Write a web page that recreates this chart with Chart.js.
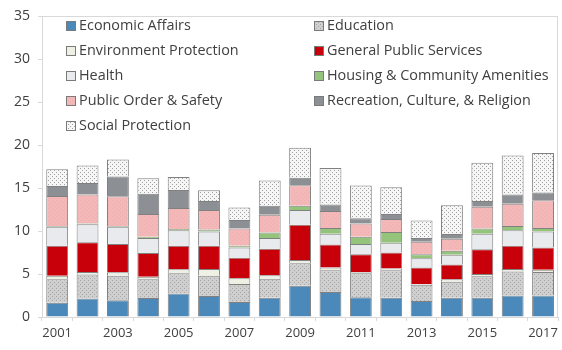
<!DOCTYPE html>
<html>
<head>
<meta charset="utf-8">
<script src="https://cdn.jsdelivr.net/npm/chart.js@4/dist/chart.umd.min.js"></script>
<style>
html,body{margin:0;padding:0;background:#fff;}
#wrap{width:562px;height:350px;position:relative;}
</style>
</head>
<body>
<div id="wrap"><canvas id="c" width="562" height="350"></canvas></div>
<script>
const years = ['2001','2002','2003','2004','2005','2006','2007','2008','2009','2010','2011','2012','2013','2014','2015','2016','2017'];
const yTicks = [0,5,10,15,20,25,30,35];

const economicAffairs   = [1.65,2.15,1.95,2.2,2.75,2.45,1.75,2.25,3.65,2.9,2.3,2.25,1.85,2.25,2.25,2.5,2.5];
const education         = [2.75,2.8,2.85,2.2,2.35,2.35,2.1,2.2,2.6,2.55,2.8,3.2,1.9,1.85,2.5,2.8,2.75];
const environment       = [0.4,0.3,0.4,0.3,0.45,0.8,0.65,0.4,0.4,0.3,0.15,0.2,0.1,0.3,0.25,0.3,0.25];
const generalPublic     = [3.5,3.45,3.3,2.75,2.75,2.7,2.4,3.1,4.1,2.7,2.05,1.85,1.9,1.7,2.9,2.7,2.6];
const health            = [2.2,2.1,2.0,1.75,1.8,1.65,1.2,1.25,1.7,1.25,1.2,1.15,1.1,1.15,1.8,1.8,1.85];
const housing           = [0.1,0.1,0.1,0.15,0.15,0.25,0.2,0.65,0.5,0.65,0.85,1.25,0.45,0.45,0.6,0.5,0.4];
const publicOrder       = [3.5,3.35,3.45,2.65,2.45,2.25,2.0,2.05,2.4,2.0,1.55,1.5,1.45,1.4,2.55,2.6,3.25];
const recreation        = [1.15,1.35,2.3,2.35,2.1,1.05,1.0,1.05,0.85,0.75,0.6,0.6,0.45,0.55,0.65,1.05,0.9];
const socialProtection  = [1.95,2.05,2.0,1.8,1.5,1.25,1.45,2.95,3.5,4.25,3.8,3.1,2.05,3.35,4.45,4.55,4.6];

function dotPattern(bg, dot) {
  const p = document.createElement('canvas');
  p.width = 4; p.height = 4;
  const g = p.getContext('2d');
  g.fillStyle = bg; g.fillRect(0,0,4,4);
  g.fillStyle = dot; g.fillRect(0,0,1,1); g.fillRect(2,2,1,1);
  return g.createPattern(p, 'repeat');
}

const FONT = '"Open Sans", "Noto Sans", sans-serif';
const series = [
  {label:'Economic Affairs', data:economicAffairs, color:'#4a89b9'},
  {label:'Education', data:education, color:dotPattern('#cfcfcf','#a6a6a6')},
  {label:'Environment Protection', data:environment, color:'#eef0e4'},
  {label:'General Public Services', data:generalPublic, color:'#c8000a'},
  {label:'Health', data:health, color:'#e9eaee'},
  {label:'Housing & Community Amenities', data:housing, color:'#94c47c'},
  {label:'Public Order & Safety', data:publicOrder, color:dotPattern('#f4b8b8','#eaaeae')},
  {label:'Recreation, Culture, & Religion', data:recreation, color:'#8c8f94'},
  {label:'Social Protection', data:socialProtection, color:dotPattern('#f6f6f6','#a0a0a0')}
];

const framePlugin = {
  id:'frame',
  beforeDatasetsDraw(chart){
    const a = chart.chartArea, ctx = chart.ctx;
    ctx.save();
    ctx.strokeStyle = '#d9d9d9'; ctx.lineWidth = 1;
    ctx.strokeRect(Math.round(a.left)+0.5, Math.round(a.top)+0.5, Math.round(a.right-a.left)-1, Math.round(a.bottom-a.top));
    ctx.restore();
  },
  afterDraw(chart){
    const ctx = chart.ctx;
    const colX = [66, 314];
    const rowY0 = 26, rowH = 25;
    ctx.save();
    ctx.font = '14.4px ' + FONT;
    ctx.textBaseline = 'middle';
    chart.data.datasets.forEach((ds, i) => {
      const col = i % 2, row = Math.floor(i / 2);
      const x = colX[col], y = rowY0 + row * rowH;
      ctx.fillStyle = ds.backgroundColor;
      ctx.fillRect(x, y - 5, 10, 10);
      ctx.strokeStyle = '#7a7a7a'; ctx.lineWidth = 1;
      ctx.strokeRect(x + 0.5, y - 4.5, 9, 9);
      ctx.fillStyle = '#404040';
      ctx.fillText(ds.label, x + 13, y);
    });
    ctx.restore();
  }
};

new Chart(document.getElementById('c'), {
  type:'bar',
  data:{
    labels: years,
    datasets: series.map(s => ({
      label:s.label, data:s.data, backgroundColor:s.color,
      borderColor:'#808080', borderWidth:1,
      categoryPercentage:1.0, barPercentage:0.72
    }))
  },
  options:{
    responsive:false, animation:false,
    layout:{padding:{top:11, right:3, left:0, bottom:0}},
    plugins:{legend:{display:false}, tooltip:{enabled:false}},
    scales:{
      x:{
        stacked:true,
        grid:{display:true, drawOnChartArea:false, color:'#d9d9d9', tickLength:4},
        border:{display:true, color:'#d9d9d9'},
        ticks:{autoSkip:false, maxRotation:0, padding:4, color:'#404040', font:{family:FONT, size:13},
          callback:function(v, i){ return i % 2 === 0 ? years[i] : ''; }},
        afterFit(s){ s.height = 33; }
      },
      y:{
        stacked:true, min:0, max:35,
        afterBuildTicks(s){ s.ticks = yTicks.map(v => ({value:v})); },
        grid:{display:true, drawOnChartArea:false, color:'#d9d9d9', tickLength:4},
        border:{display:true, color:'#d9d9d9'},
        ticks:{padding:8, color:'#404040', font:{family:FONT, size:14}},
        afterFit(s){ s.width = 42; }
      }
    }
  },
  plugins:[framePlugin]
});
</script>
</body>
</html>
